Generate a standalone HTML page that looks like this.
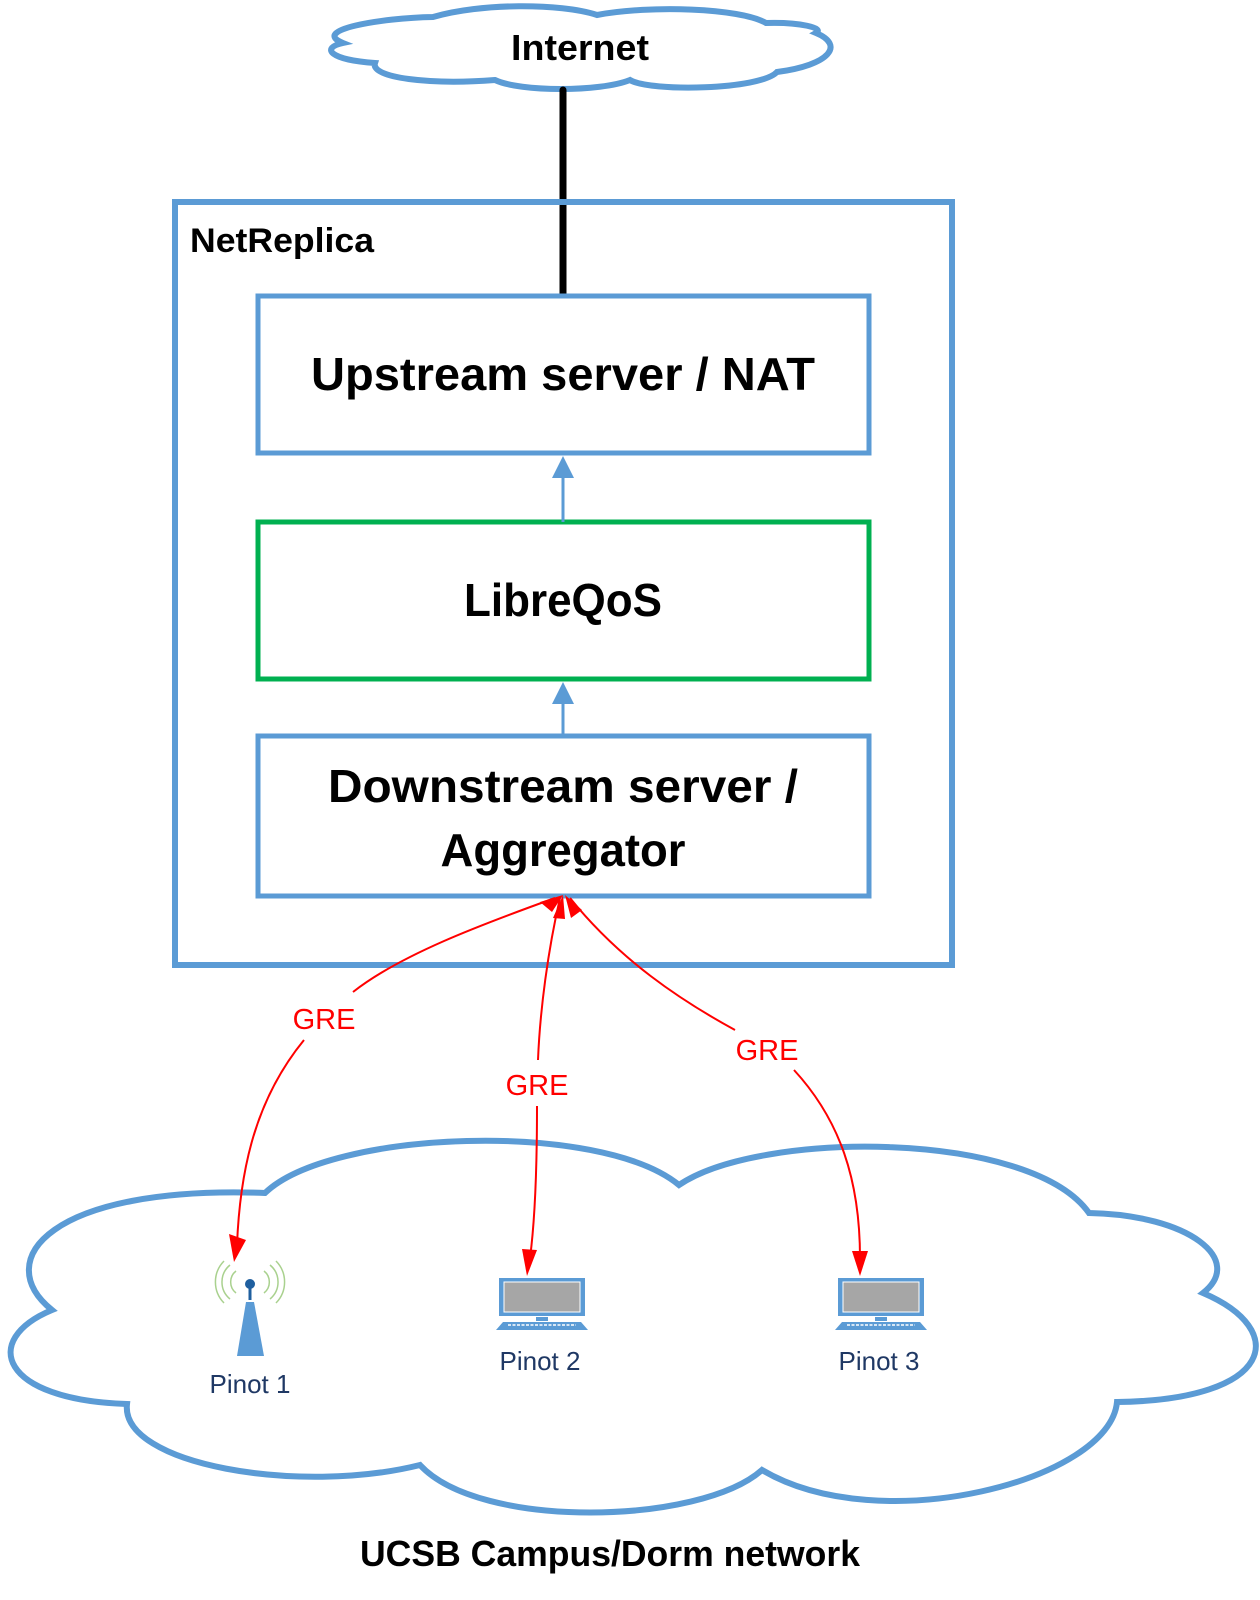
<!DOCTYPE html>
<html><head><meta charset="utf-8"><style>html,body{margin:0;padding:0;background:#fff}svg{display:block}</style></head>
<body>
<svg width="1260" height="1600" viewBox="0 0 1260 1600" xmlns="http://www.w3.org/2000/svg" font-family="Liberation Sans, sans-serif">
<!-- Internet cloud -->
<path d="M433,17 C480,3 560,3 597,15 C650,5 740,8 766,23 C800,22 825,28 816,33 C845,45 830,65 777,72 C760,90 650,92 630,80 C600,92 520,92 495,80 C430,85 370,78 375,63 C330,60 320,48 343,43 C310,30 380,18 433,17 Z" fill="#fff" stroke="#5b9bd5" stroke-width="6"/>
<text x="580" y="60" font-size="36" font-weight="bold" text-anchor="middle" textLength="138" lengthAdjust="spacingAndGlyphs">Internet</text>
<line x1="563" y1="90" x2="563" y2="298" stroke="#000" stroke-width="7" stroke-linecap="round"/>
<rect x="175" y="202" width="777" height="763" fill="none" stroke="#5b9bd5" stroke-width="6"/>
<text x="190" y="252" font-size="34" font-weight="bold" textLength="184" lengthAdjust="spacingAndGlyphs">NetReplica</text>
<rect x="258" y="296" width="611" height="157" fill="#fff" stroke="#5b9bd5" stroke-width="5"/>
<text x="563" y="390" font-size="46" font-weight="bold" text-anchor="middle" textLength="504" lengthAdjust="spacingAndGlyphs">Upstream server / NAT</text>
<rect x="258" y="522" width="611" height="157" fill="#fff" stroke="#00b050" stroke-width="5"/>
<text x="563" y="616" font-size="46" font-weight="bold" text-anchor="middle" textLength="198" lengthAdjust="spacingAndGlyphs">LibreQoS</text>
<rect x="258" y="736" width="611" height="160" fill="#fff" stroke="#5b9bd5" stroke-width="5"/>
<text x="563" y="802" font-size="46" font-weight="bold" text-anchor="middle" textLength="470" lengthAdjust="spacingAndGlyphs">Downstream server /</text>
<text x="563" y="866" font-size="46" font-weight="bold" text-anchor="middle" textLength="245" lengthAdjust="spacingAndGlyphs">Aggregator</text>
<line x1="563" y1="522" x2="563" y2="470" stroke="#5b9bd5" stroke-width="3"/>
<path d="M552,478 L563,456 L574,478z" fill="#5b9bd5"/>
<line x1="563" y1="736" x2="563" y2="696" stroke="#5b9bd5" stroke-width="3"/>
<path d="M552,704 L563,682 L574,704z" fill="#5b9bd5"/>
<!-- big cloud -->
<path d="M265,1193 C330,1130 600,1120 679,1185 C760,1130 1030,1130 1089,1213 C1190,1215 1245,1260 1203,1293 C1290,1330 1275,1400 1117,1402 C1110,1480 880,1540 762,1470 C700,1525 480,1530 420,1465 C300,1495 120,1465 127,1404 C0,1400 -20,1340 52,1310 C-10,1260 50,1185 265,1193 Z" fill="#fff" stroke="#5b9bd5" stroke-width="6"/>
<g fill="none" stroke="#ff0000" stroke-width="2">
<path d="M555,898 C480,925 400,955 353,992"/>
<path d="M304,1040 C255,1100 240,1170 237,1245"/>
<path d="M560,898 C548,950 540,1010 538,1060"/>
<path d="M537,1106 C537,1170 535,1220 530,1258"/>
<path d="M570,898 C620,960 680,1000 735,1030"/>
<path d="M794,1070 C840,1120 860,1180 860,1258"/>
</g>
<g fill="#ff0000">
<path d="M563,895 L540,902 L552,912z"/>
<path d="M563,895 L553,918 L565,919z"/>
<path d="M565,895 L571,918 L582,910z"/>
<path d="M229,1234 L234,1262 L246,1240z"/>
<path d="M522,1249 L527,1276 L537,1250z"/>
<path d="M852,1251 L860,1276 L868,1251z"/>
</g>
<g fill="#ff0000" font-size="29" text-anchor="middle">
<text x="324" y="1029">GRE</text>
<text x="537" y="1095">GRE</text>
<text x="767" y="1060">GRE</text>
</g>
<g fill="none" stroke="#a9d18e" stroke-width="1.5">
<path d="M236,1271 a14,14 0 0 0 0,22"/><path d="M264,1271 a14,14 0 0 1 0,22"/>
<path d="M230,1265 a22,22 0 0 0 0,34"/><path d="M270,1265 a22,22 0 0 1 0,34"/>
<path d="M224,1261 a30,30 0 0 0 0,42"/><path d="M276,1261 a30,30 0 0 1 0,42"/>
</g>
<circle cx="250" cy="1284" r="5" fill="#1f5f9f"/>
<line x1="250" y1="1284" x2="250" y2="1300" stroke="#1f5f9f" stroke-width="3"/>
<path d="M246,1302 L254,1302 L264,1356 L237,1356z" fill="#5b9bd5"/>
<text x="250" y="1393" font-size="26" fill="#1f3864" text-anchor="middle">Pinot 1</text>
<g id="pc">
<rect x="499" y="1278" width="86" height="38" fill="#5b9bd5"/>
<rect x="504" y="1282" width="76" height="30" fill="#a6a6a6" stroke="#fff" stroke-width="1"/>
<rect x="536" y="1317" width="12" height="4" fill="#5b9bd5"/>
<path d="M503,1322 L581,1322 L588,1330 L496,1330z" fill="#5b9bd5"/>
<line x1="508" y1="1325" x2="576" y2="1325" stroke="#fff" stroke-width="1.5" stroke-dasharray="3,1.5"/>
</g>
<use href="#pc" transform="translate(339,0)"/>
<text x="540" y="1370" font-size="26" fill="#1f3864" text-anchor="middle">Pinot 2</text>
<text x="879" y="1370" font-size="26" fill="#1f3864" text-anchor="middle">Pinot 3</text>
<text x="610" y="1566" font-size="36" font-weight="bold" text-anchor="middle" textLength="500" lengthAdjust="spacingAndGlyphs">UCSB Campus/Dorm network</text>
</svg>
</body></html>
